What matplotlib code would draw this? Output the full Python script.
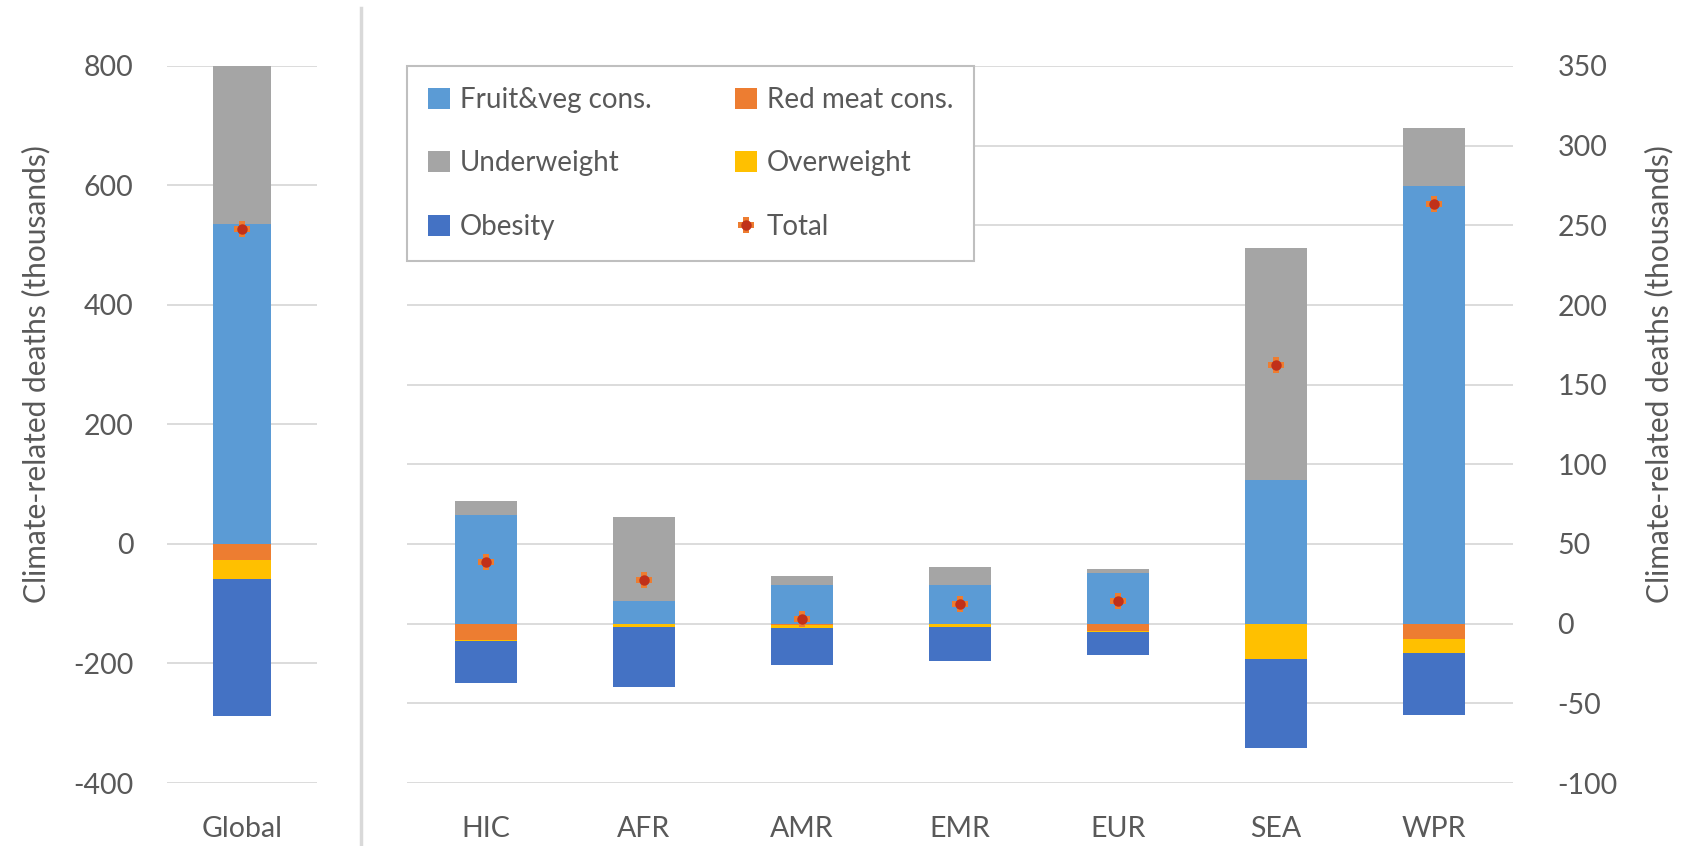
import matplotlib.pyplot as plt
import numpy as np

plt.rcParams['font.family'] = ['Lato', 'DejaVu Sans']
plt.rcParams['axes.unicode_minus'] = False

# Global panel (left axis, thousands)
global_fruit = 535
global_redmeat = -27
global_under = 282
global_over = -32
global_obesity = -229
global_total = 528

# Regional panel (right axis, thousands)
regions = ["HIC", "AFR", "AMR", "EMR", "EUR", "SEA", "WPR"]
fruit = [68, 14, 24.5, 24.5, 31.5, 90, 274.6]
redmeat = [-10.5, 0, -1, 0, -4.6, 0, -9.8]
under = [9, 53, 5.4, 11, 2.6, 146, 36.4]
over = [-0.5, -2, -1.5, -2, -0.4, -22, -8.4]
obesity = [-26.5, -37.7, -23.7, -21.4, -14.5, -56, -39]
total = [38.7, 27.2, 3.1, 12.1, 14, 162.6, 263.4]

names = ["Fruit&veg cons.", "Red meat cons.", "Underweight", "Overweight", "Obesity"]
colors = ["#5B9BD5", "#ED7D31", "#A5A5A5", "#FFC000", "#4472C4"]
TXT = "#595959"
GRID = "#D9D9D9"


def stacked(ax, x, series, width):
    pos = np.zeros(len(x))
    neg = np.zeros(len(x))
    handles = []
    for vals, c, n in zip(series, colors, names):
        vals = np.asarray(vals, dtype=float)
        bottom = np.where(vals >= 0, pos, neg)
        h = ax.bar(x, vals, width, bottom=bottom, color=c, label=n, zorder=2)
        handles.append(h)
        pos = pos + np.where(vals >= 0, vals, 0)
        neg = neg + np.where(vals < 0, vals, 0)
    return handles


def total_marker(ax, x, y):
    p1 = ax.plot(x, y, ls="none", marker="P", ms=12, color="#ED7D31", mew=0, zorder=3)[0]
    p2 = ax.plot(x, y, ls="none", marker="o", ms=7.5, color="#C0301A", mew=0, zorder=4)[0]
    return (p1, p2)


def style(ax):
    for s in ax.spines.values():
        s.set_visible(False)
    ax.tick_params(length=0, colors=TXT, labelsize=20.5)
    ax.grid(axis="y", color=GRID, lw=1.3, zorder=0)
    ax.set_axisbelow(True)


fig = plt.figure(figsize=(16.83, 8.46), dpi=100)
W, H = 1683, 846

# left panel
ax1 = fig.add_axes([167 / W, 1 - 783 / H, 150 / W, 717 / H])
stacked(ax1, [0], [[global_fruit], [global_redmeat], [global_under],
                   [global_over], [global_obesity]], 0.39)
total_marker(ax1, [0], [global_total])
ax1.set_xlim(-0.5, 0.5)
ax1.set_ylim(-400, 800)
ax1.set_yticks(np.arange(-400, 801, 200))
ax1.set_xticks([0])
ax1.set_xticklabels(["Global"])
style(ax1)
ax1.tick_params(axis="y", pad=24)
ax1.tick_params(axis="x", pad=24)
ax1.set_ylabel("Climate-related deaths (thousands)", color=TXT, fontsize=21.5)
ax1.yaxis.set_label_coords(-0.78, 0.57)

# right panel
ax2 = fig.add_axes([407 / W, 1 - 783 / H, 1106 / W, 717 / H])
x = np.arange(len(regions))
hs = stacked(ax2, x, [fruit, redmeat, under, over, obesity], 0.39)
th = total_marker(ax2, x, total)
ax2.set_xlim(-0.5, len(regions) - 0.5)
ax2.set_ylim(-100, 350)
ax2.set_yticks(np.arange(-100, 351, 50))
ax2.set_xticks(x)
ax2.set_xticklabels(regions)
ax2.yaxis.tick_right()
ax2.yaxis.set_label_position("right")
style(ax2)
ax2.tick_params(axis="y", pad=32)
ax2.tick_params(axis="x", pad=24)
ax2.set_ylabel("Climate-related deaths (thousands)", color=TXT, fontsize=21.5)
ax2.yaxis.set_label_coords(1.119, 0.57)

leg = ax2.legend([hs[0], hs[2], hs[4], hs[1], hs[3], th],
                 [names[0], names[2], names[4], names[1], names[3], "Total"],
                 ncol=2, loc="upper left", bbox_to_anchor=(0.0, 1.0),
                 borderaxespad=0, fontsize=20, labelcolor=TXT,
                 handlelength=0.8, handleheight=0.8, handletextpad=0.35,
                 columnspacing=3.0, labelspacing=1.35, borderpad=0.75,
                 fancybox=False, framealpha=1)
leg.get_frame().set_edgecolor("#BFBFBF")
leg.get_frame().set_linewidth(1.5)

# separator between the panels
fig.add_artist(plt.Line2D([361 / W, 361 / W], [0, 1 - 8 / H], color=GRID, lw=2.5))

fig.savefig("out.png", dpi=100, facecolor="white")
